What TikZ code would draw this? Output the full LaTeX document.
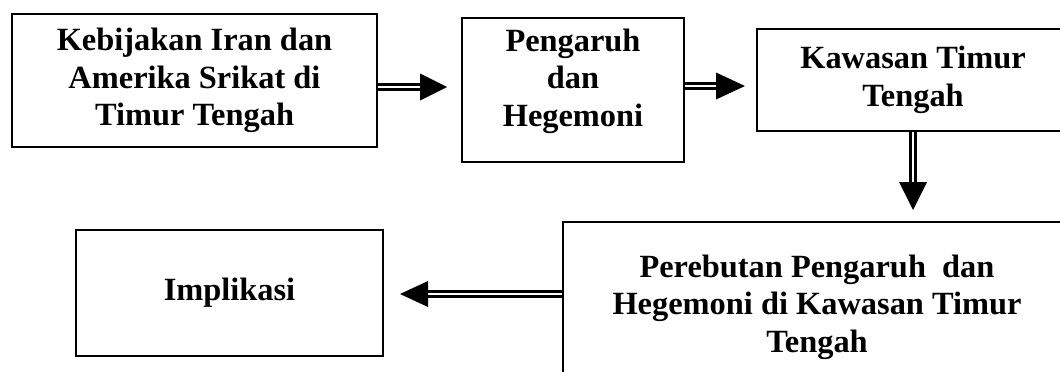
\documentclass[tikz,border=0pt]{standalone}
\usepackage{fontspec}
\setmainfont{Liberation Serif}
\usetikzlibrary{calc}
\begin{document}
\begin{tikzpicture}[x=1pt,y=-1pt,
  lbl/.style={inner sep=0pt, align=center,
    font=\fontsize{32.4pt}{37.5pt}\selectfont\bfseries},
  box/.style={lbl, draw, line width=2pt},
  shaft/.style={draw, line width=2.8pt, double=white, double distance=2.4pt},
  head/.style={fill=black}]
\useasboundingbox (0,0) rectangle (1060,372);

% boxes of the flow
\node[box, minimum width=365pt, minimum height=133pt] (b1) at (194.5,80.5)
  {Kebijakan Iran dan\\Amerika Srikat di\\Timur Tengah};
\node[box, minimum width=222pt, minimum height=144pt] (b2) at (573,90) {};
\node[lbl] (b2t) at ($(b2.center)+(0,-9)$) {Pengaruh\\dan\\Hegemoni};
\node[box, minimum width=312pt, minimum height=102pt] (b3) at (913,80)
  {Kawasan Timur\\Tengah};
\node[box, minimum width=508pt, minimum height=170pt] (b4) at (817,307)
  {Perebutan Pengaruh \ dan\\Hegemoni di Kawasan Timur\\Tengah};
\node[box, minimum width=307pt, minimum height=126pt] (b5) at (229.5,293)
  {Implikasi};

% arrow tips
\coordinate (t1) at (447,87);
\coordinate (t2) at (745,86);
\coordinate (t3) at (913,210);
\coordinate (t4) at (400,294);

% double-line arrows
\draw[shaft] (b1.east |- t1) -- ($(t1)+(-26,0)$);
\fill[head] ($(t1)+(-27,-13.5)$) -- (t1) -- ($(t1)+(-27,13.5)$) -- cycle;

\draw[shaft] (b2.east |- t2) -- ($(t2)+(-26,0)$);
\fill[head] ($(t2)+(-29,-13.5)$) -- (t2) -- ($(t2)+(-29,13.5)$) -- cycle;

\draw[shaft] (b3.south) -- ($(t3)+(0,-26)$);
\fill[head] ($(t3)+(-14,-28)$) -- (t3) -- ($(t3)+(14,-28)$) -- cycle;

\draw[shaft] (b4.west |- t4) -- ($(t4)+(26,0)$);
\fill[head] ($(t4)+(28,-13)$) -- (t4) -- ($(t4)+(28,13)$) -- cycle;
\end{tikzpicture}
\end{document}
